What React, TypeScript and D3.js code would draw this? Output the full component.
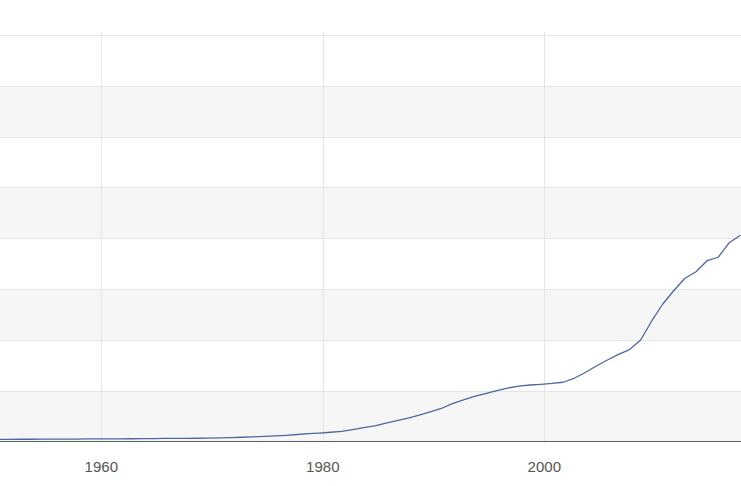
import React from "react";
import * as d3 from "d3";

const years: number[] = [
  1950, 1951, 1952, 1953, 1954, 1955, 1956, 1957, 1958, 1959,
  1960, 1961, 1962, 1963, 1964, 1965, 1966, 1967, 1968, 1969,
  1970, 1971, 1972, 1973, 1974, 1975, 1976, 1977, 1978, 1979,
  1980, 1981, 1982, 1983, 1984, 1985, 1986, 1987, 1988, 1989,
  1990, 1991, 1992, 1993, 1994, 1995, 1996, 1997, 1998, 1999,
  2000, 2001, 2002, 2003, 2004, 2005, 2006, 2007, 2008, 2009,
  2010, 2011, 2012, 2013, 2014, 2015, 2016, 2017,
];

const values: number[] = [
  2.0, 2.1, 2.2, 2.2, 2.3, 2.3, 2.4, 2.4, 2.5, 2.5,
  2.6, 2.6, 2.7, 2.8, 2.9, 3.0, 3.1, 3.15, 3.2, 3.3,
  3.6, 3.9, 4.2, 4.6, 5.1, 5.5, 6.1, 6.9, 7.7, 8.3,
  9.1, 9.9, 11.7, 13.6, 15.4, 18.0, 20.5, 23.1, 25.9, 29.2,
  32.5, 37.3, 41.0, 44.3, 47.2, 50.0, 52.6, 54.4, 55.6, 56.3,
  57.1, 58.3, 62.2, 67.9, 74.3, 80.2, 85.8, 90.5, 99.9, 118.6,
  135.3, 148.6, 160.6, 167.1, 177.9, 181.3, 195.6, 203.0,
];

const xTicks: number[] = [1960, 1980, 2000];
const yTicks: number[] = [0, 50, 100, 150, 200, 250, 300, 350, 400];

// annual observations sit late in each year on the time axis
const OBS_OFFSET = 0.7;

const W = 741;
const H = 486;
const top = 35;
const bottom = 441.5;

export default function App() {
  const x = d3
    .scaleLinear()
    .domain([1960, 2000])
    .range([101.3, 544.3]);
  const y = d3.scaleLinear().domain([0, 400]).range([bottom, top]);

  const pts: [number, number][] = years.map((yr, i) => [yr + OBS_OFFSET, values[i]]);
  const line = d3
    .line<[number, number]>()
    .x((d) => x(d[0]))
    .y((d) => y(d[1]));

  const bands: number[] = [];
  for (let i = 0; i < yTicks.length - 1; i++) {
    if (i % 2 === 0) bands.push(i);
  }

  return (
    <div style={{ position: "fixed", left: 0, top: 0, width: W, height: H, background: "#fff" }}>
      <svg width={W} height={H} style={{ display: "block" }}>
        <rect x={0} y={0} width={W} height={H} fill="#ffffff" />
        {bands.map((i) => (
          <rect
            key={"b" + i}
            x={0}
            width={W}
            y={y(yTicks[i + 1])}
            height={y(yTicks[i]) - y(yTicks[i + 1])}
            fill="#f6f6f6"
          />
        ))}
        {yTicks.slice(1).map((t) => (
          <line
            key={"h" + t}
            x1={0}
            x2={W}
            y1={Math.round(y(t)) + 0.5}
            y2={Math.round(y(t)) + 0.5}
            stroke="#e5e5e5"
            strokeWidth={1}
          />
        ))}
        {xTicks.map((t) => (
          <line
            key={"v" + t}
            x1={Math.round(x(t)) + 0.5}
            x2={Math.round(x(t)) + 0.5}
            y1={32.5}
            y2={bottom}
            stroke="#e5e5e5"
            strokeWidth={1}
          />
        ))}
        <path d={line(pts) || ""} fill="none" stroke="#4d67a1" strokeWidth={1.3} strokeLinejoin="round" />
        <line x1={0} x2={W} y1={bottom} y2={bottom} stroke="#5c5c5c" strokeWidth={1} />
        {xTicks.map((t) => (
          <text
            key={"t" + t}
            x={x(t)}
            y={472}
            textAnchor="middle"
            fontFamily="'Liberation Sans', Arial, sans-serif"
            fontSize={15}
            fill="#555555"
          >
            {t}
          </text>
        ))}
      </svg>
    </div>
  );
}
